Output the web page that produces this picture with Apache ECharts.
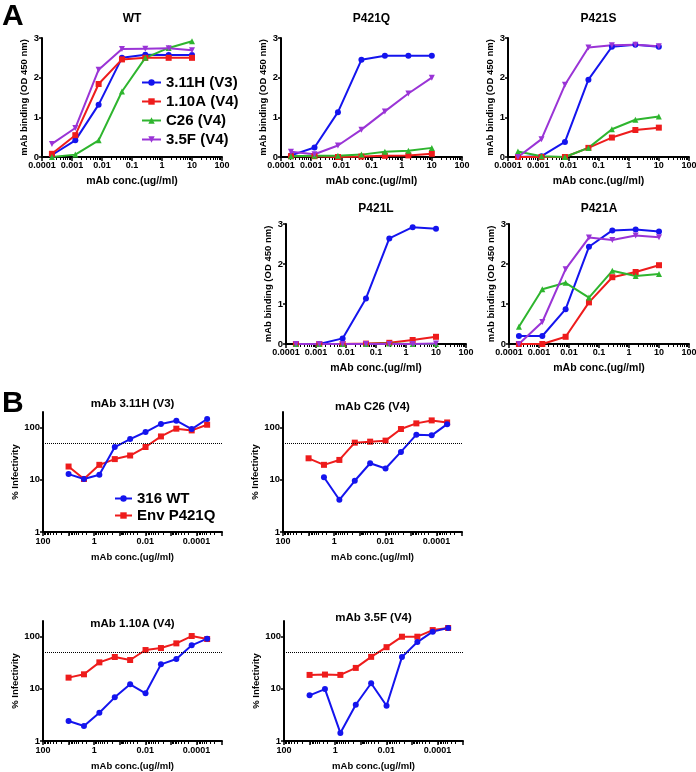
<!DOCTYPE html>
<html>
<head>
<meta charset="utf-8">
<script src="https://cdn.jsdelivr.net/npm/echarts@6/dist/echarts.min.js"></script>
<style>
html, body { margin: 0; padding: 0; background: #fff; }
#chart { width: 696px; height: 772px; }
</style>
</head>
<body>
<div id="chart"></div>
<script>
// ---- panel A: mAb binding ELISA, 6-fold dilutions from 10 ug/ml ----
var concA = [0.000214, 0.00129, 0.00772, 0.0463, 0.278, 1.667, 10];
var mabNames = ['3.11H (V3)', '1.10A (V4)', 'C26 (V4)', '3.5F (V4)'];

var WT_311H = [0.05, 0.42, 1.32, 2.50, 2.58, 2.57, 2.57];
var WT_110A = [0.08, 0.55, 1.84, 2.46, 2.50, 2.50, 2.50];
var WT_C26  = [0.00, 0.06, 0.42, 1.65, 2.50, 2.75, 2.92];
var WT_35F  = [0.33, 0.73, 2.20, 2.72, 2.73, 2.74, 2.69];

var Q_311H = [0.04, 0.24, 1.13, 2.45, 2.55, 2.55, 2.55];
var Q_110A = [0.02, 0.02, 0.00, 0.01, 0.03, 0.04, 0.08];
var Q_C26  = [0.02, 0.03, 0.03, 0.06, 0.13, 0.16, 0.23];
var Q_35F  = [0.13, 0.07, 0.29, 0.69, 1.15, 1.60, 2.00];

var S_311H = [0.00, 0.02, 0.38, 1.95, 2.78, 2.83, 2.78];
var S_110A = [0.00, 0.00, 0.00, 0.23, 0.49, 0.68, 0.74];
var S_C26  = [0.14, 0.02, 0.00, 0.23, 0.70, 0.94, 1.02];
var S_35F  = [0.00, 0.45, 1.82, 2.76, 2.82, 2.83, 2.79];

var L_311H = [0.00, 0.00, 0.14, 1.14, 2.64, 2.92, 2.88];
var L_110A = [0.00, 0.00, 0.00, 0.01, 0.03, 0.10, 0.18];
var L_C26  = [0.00, 0.00, 0.00, 0.00, 0.01, 0.00, 0.00];
var L_35F  = [0.00, 0.00, 0.00, 0.00, 0.00, 0.00, 0.01];

var A_311H = [0.20, 0.20, 0.87, 2.43, 2.84, 2.86, 2.81];
var A_110A = [0.00, 0.00, 0.18, 1.04, 1.67, 1.80, 1.97];
var A_C26  = [0.43, 1.37, 1.53, 1.16, 1.83, 1.70, 1.75];
var A_35F  = [0.00, 0.55, 1.87, 2.66, 2.60, 2.71, 2.67];

var ticksYA = [0, 1, 2, 3];

// ---- panel B: neutralization, 4-fold dilutions from 10 ug/ml ----
var concB = [10, 2.5, 0.625, 0.156, 0.0391, 0.00977, 0.00244, 0.00061, 0.000153, 0.0000381];
var virusNames = ['316 WT', 'Env P421Q'];

var inf311H_WT = [12.9, 10.4, 12.5, 42.6, 60.6, 82.6, 118, 136, 94, 147];
var inf311H_Q  = [18, 10.4, 19.4, 25, 29.3, 42.6, 68, 95.7, 88.7, 114];
var infC26_WT  = [null, 11.2, 4.15, 9.6, 20.8, 16.5, 34.3, 73.5, 71.3, 117];
var infC26_Q   = [25.9, 19.4, 24.1, 51.7, 54, 56.5, 94.3, 121, 138, 126];
var inf110A_WT = [2.42, 1.94, 3.49, 6.87, 12.2, 8.2, 29.5, 37.3, 68.2, 91.6];
var inf110A_Q  = [16.4, 19, 32.2, 40.8, 35.7, 55.5, 60.6, 74.5, 103, 90.2];
var inf35F_WT  = [7.5, 9.9, 1.43, 4.96, 12.8, 4.73, 40.6, 78.9, 125, 147];
var inf35F_Q   = [18.5, 18.8, 18.5, 25.2, 41.1, 63, 100, 100, 134, 147];

var halfLine = 50;
var ticksXB = [100, 1, 0.01, 0.0001];
var ticksYB = [1, 10, 100];

// ---- layout ----
var panelsA = [
  { title: 'WT',    vals: [WT_311H, WT_110A, WT_C26, WT_35F], box: [42, 38, 180, 119], ty: 13 },
  { title: 'P421Q', vals: [Q_311H, Q_110A, Q_C26, Q_35F],     box: [281, 38, 181, 119], ty: 13 },
  { title: 'P421S', vals: [S_311H, S_110A, S_C26, S_35F],     box: [508, 38, 181, 119], ty: 13 },
  { title: 'P421L', vals: [L_311H, L_110A, L_C26, L_35F],     box: [286, 224, 180, 120], ty: 203 },
  { title: 'P421A', vals: [A_311H, A_110A, A_C26, A_35F],     box: [509, 224, 180, 120], ty: 203 }
];
var panelsB = [
  { title: 'mAb 3.11H (V3)', vals: [inf311H_WT, inf311H_Q], box: [43, 412, 179, 120], ty: 398 },
  { title: 'mAb C26 (V4)',   vals: [infC26_WT, infC26_Q],   box: [283, 412, 179, 120], ty: 401 },
  { title: 'mAb 1.10A (V4)', vals: [inf110A_WT, inf110A_Q], box: [43, 621, 179, 120], ty: 618 },
  { title: 'mAb 3.5F (V4)',  vals: [inf35F_WT, inf35F_Q],   box: [284, 621, 179, 120], ty: 612 }
];

var colorsA = ['#1414ee', '#ee1c1c', '#2eb52e', '#9a34d6'];
var symbolsA = ['circle', 'rect', 'triangle', 'triangle'];
var rotateA = [0, 0, 0, 180];
var colorsB = ['#1414ee', '#ee1c1c'];
var symbolsB = ['circle', 'rect'];

var FONT = '"Liberation Sans", Arial, sans-serif';

function fmt(v) { return String(Number(v.toPrecision(4))); }
function minorTicks(lo, hi) {
  var out = [];
  for (var e = lo; e < hi; e++) for (var m = 2; m <= 9; m++) out.push(m * Math.pow(10, e));
  return out;
}
function sameDecade(v, list) {
  for (var i = 0; i < list.length; i++) if (Math.abs(Math.log10(v) - Math.log10(list[i])) < 1e-6) return true;
  return false;
}

var grids = [], xAxes = [], yAxes = [], series = [], titles = [];

titles.push({ text: 'A', left: 2, top: 2, padding: 0, textStyle: { fontSize: 30, fontWeight: 'bold', fontFamily: FONT, color: '#000' } });
titles.push({ text: 'B', left: 2, top: 389, padding: 0, textStyle: { fontSize: 30, fontWeight: 'bold', fontFamily: FONT, color: '#000' } });

function addPanel(p, isB) {
  var g = grids.length;
  var b = p.box;
  grids.push({ left: b[0], top: b[1], width: b[2], height: b[3], containLabel: false, outerBoundsMode: 'none' });
  titles.push({
    text: p.title, left: b[0] + b[2] / 2, top: p.ty, textAlign: 'center', padding: 0,
    textStyle: { fontSize: isB ? 11.5 : 12, fontWeight: 'bold', fontFamily: FONT, color: '#000' }
  });
  var xmin = isB ? 0.00001 : 0.0001;
  xAxes.push({
    type: 'log', gridIndex: g, position: 'bottom', min: xmin, max: 100, inverse: isB,
    name: 'mAb conc.(ug//ml)', nameLocation: 'middle', nameGap: isB ? 20 : 19,
    nameTextStyle: { fontSize: isB ? 9.5 : 10.5, fontWeight: 'bold', fontFamily: FONT, color: '#000' },
    axisLine: { show: true, lineStyle: { color: '#000', width: 2 } },
    axisTick: { show: true, length: 4, lineStyle: { color: '#000', width: 1.5 } },
    axisLabel: {
      margin: isB ? 5 : 4, fontSize: 9, fontWeight: 'bold', fontFamily: FONT, color: '#000',
      formatter: function (v) { return (!isB || sameDecade(v, ticksXB)) ? fmt(v) : ''; }
    },
    splitLine: { show: false }
  });
  xAxes.push({
    type: 'log', gridIndex: g, position: 'bottom', min: xmin, max: 100, inverse: isB,
    axisLine: { show: false },
    axisTick: { show: true, length: 3, customValues: minorTicks(isB ? -5 : -4, 2), lineStyle: { color: '#000', width: 1 } },
    axisLabel: { show: false },
    splitLine: { show: false }
  });
  if (isB) {
    yAxes.push({
      type: 'log', gridIndex: g, min: 1, max: 200,
      name: '% Infectivity', nameLocation: 'middle', nameGap: 18,
      nameTextStyle: { fontSize: 9.5, fontWeight: 'bold', fontFamily: FONT, color: '#000' },
      axisLine: { show: true, lineStyle: { color: '#000', width: 2 } },
      axisTick: { show: true, length: 3, customValues: ticksYB, lineStyle: { color: '#000', width: 1.5 } },
      axisLabel: { margin: 3, fontSize: 9.5, fontWeight: 'bold', fontFamily: FONT, color: '#000', customValues: ticksYB,
        formatter: function (v) { return sameDecade(v, ticksYB) ? fmt(v) : ''; } },
      splitLine: { show: false }
    });
  } else {
    yAxes.push({
      type: 'value', gridIndex: g, min: 0, max: 3, interval: 1,
      name: 'mAb binding (OD 450 nm)', nameLocation: 'middle', nameGap: 10,
      nameTextStyle: { fontSize: 9.5, fontWeight: 'bold', fontFamily: FONT, color: '#000' },
      axisLine: { show: true, lineStyle: { color: '#000', width: 2 } },
      axisTick: { show: true, length: 3, customValues: ticksYA, lineStyle: { color: '#000', width: 1.5 } },
      axisLabel: { margin: 3, fontSize: 9.5, fontWeight: 'bold', fontFamily: FONT, color: '#000' },
      splitLine: { show: false }
    });
  }
  return g;
}

panelsA.forEach(function (p) {
  var g = addPanel(p, false);
  p.vals.forEach(function (vals, k) {
    series.push({
      type: 'line', name: mabNames[k], xAxisIndex: 2 * g, yAxisIndex: g,
      data: concA.map(function (c, i) { return [c, vals[i]]; }),
      symbol: symbolsA[k], symbolSize: 6, symbolRotate: rotateA[k],
      lineStyle: { color: colorsA[k], width: 2 }, itemStyle: { color: colorsA[k] },
      clip: false, silent: true
    });
  });
});

panelsB.forEach(function (p) {
  var g = addPanel(p, true);
  // red first so blue sits on top
  [1, 0].forEach(function (k) {
    var vals = p.vals[k];
    var s = {
      type: 'line', name: virusNames[k], xAxisIndex: 2 * g, yAxisIndex: g,
      data: concB.map(function (c, i) { return [c, vals[i]]; }).filter(function (d) { return d[1] != null; }),
      symbol: symbolsB[k], symbolSize: 6,
      lineStyle: { color: colorsB[k], width: 2 }, itemStyle: { color: colorsB[k] },
      clip: false, silent: true
    };
    if (k === 1) {
      s.markLine = {
        silent: true, symbol: 'none', label: { show: false },
        lineStyle: { type: 'dotted', color: '#000', width: 1 },
        data: [{ yAxis: halfLine }]
      };
    }
    series.push(s);
  });
});

var option = {
  animation: false,
  backgroundColor: '#fff',
  title: titles,
  legend: [
    {
      data: mabNames, orient: 'vertical', left: 141, top: 75, padding: 0,
      itemWidth: 19, itemHeight: 8, itemGap: 4, selectedMode: false,
      textStyle: { fontSize: 15, fontWeight: 'bold', fontFamily: FONT, color: '#000', lineHeight: 15 }
    },
    {
      data: virusNames, orient: 'vertical', left: 114, top: 491, padding: 0,
      itemWidth: 17, itemHeight: 8, itemGap: 2, selectedMode: false,
      textStyle: { fontSize: 15, fontWeight: 'bold', fontFamily: FONT, color: '#000', lineHeight: 14 }
    }
  ],
  grid: grids,
  xAxis: xAxes,
  yAxis: yAxes,
  series: series
};

var chart = echarts.init(document.getElementById('chart'));
chart.setOption(option);
</script>
</body>
</html>
